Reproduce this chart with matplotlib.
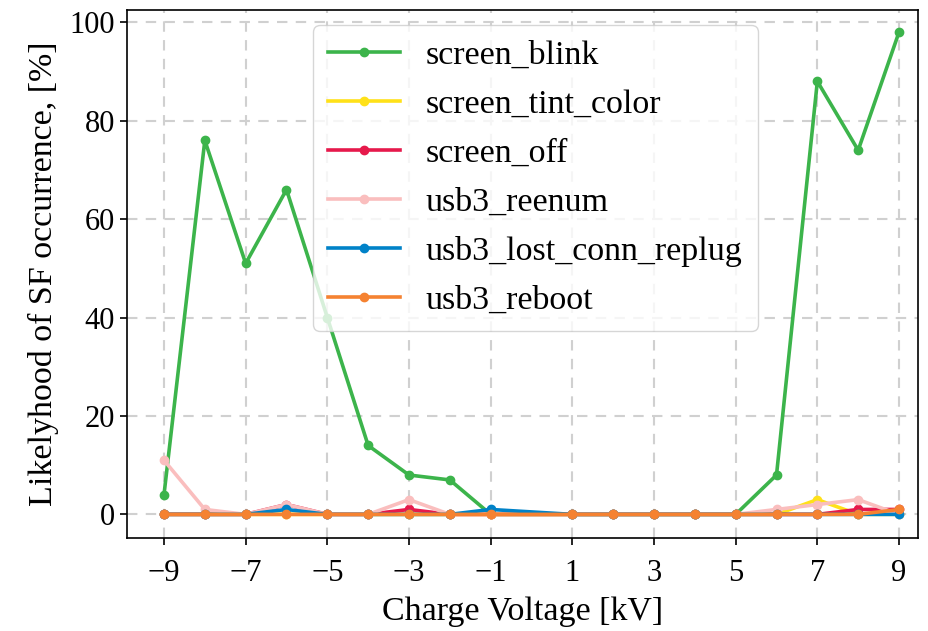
import matplotlib
matplotlib.use("Agg")
import matplotlib.pyplot as plt

plt.rcParams['font.family'] = ['Liberation Serif', 'DejaVu Serif']

voltages = [-9, -8, -7, -6, -5, -4, -3, -2, -1, 1, 2, 3, 4, 5, 6, 7, 8, 9]
screen_blink = [4, 76, 51, 66, 40, 14, 8, 7, 0, 0, 0, 0, 0, 0, 8, 88, 74, 98]
screen_tint_color = [0, 0, 0, 0, 0, 0, 0, 0, 0, 0, 0, 0, 0, 0, 0, 3, 0, 0]
screen_off = [0, 0, 0, 2, 0, 0, 1, 0, 0, 0, 0, 0, 0, 0, 0, 0, 1, 1]
usb3_reenum = [11, 1, 0, 2, 0, 0, 3, 0, 0, 0, 0, 0, 0, 0, 1, 2, 3, 0]
usb3_lost_conn_replug = [0, 0, 0, 1, 0, 0, 0, 0, 1, 0, 0, 0, 0, 0, 0, 0, 0, 0]
usb3_reboot = [0, 0, 0, 0, 0, 0, 0, 0, 0, 0, 0, 0, 0, 0, 0, 0, 0, 1]

series = [
    ("screen_blink", screen_blink, "#3cb44b"),
    ("screen_tint_color", screen_tint_color, "#ffe119"),
    ("screen_off", screen_off, "#e6194b"),
    ("usb3_reenum", usb3_reenum, "#fabebe"),
    ("usb3_lost_conn_replug", usb3_lost_conn_replug, "#0082c8"),
    ("usb3_reboot", usb3_reboot, "#f58231"),
]
xticks = [-9, -7, -5, -3, -1, 1, 3, 5, 7, 9]

fig = plt.figure(figsize=(9.29, 6.31), dpi=100)
ax = fig.add_axes([127/929, 1 - 538/631, (918-127)/929, (538-10)/631])
for name, vals, col in series:
    ax.plot(voltages, vals, marker='o', markersize=6, linewidth=2.6, color=col, label=name)

ax.set_xticks(xticks)
ax.set_xticklabels([str(t).replace('-', '\u2212') for t in xticks])
ax.set_xlim(-9.906, 9.465)
ax.set_ylim(-4.8, 102.5)
ax.set_yticks([0, 20, 40, 60, 80, 100])
ax.tick_params(labelsize=22, length=5, width=1.2)
ax.tick_params(axis='x', pad=10)
ax.grid(True, linestyle=(0, (5, 4)), color='#d0d0d0', linewidth=1.5)
ax.set_xlabel("Charge Voltage [kV]", fontsize=24.5, labelpad=6)
ax.set_ylabel("Likelyhood of SF occurrence, [%]", fontsize=24.5, labelpad=8)
for s in ax.spines.values():
    s.set_linewidth(1.2)
ax.legend(loc='upper left', bbox_to_anchor=(0.235, 0.9716), borderaxespad=0,
          fontsize=24.5, handlelength=2.1, handletextpad=0.76, borderpad=0.45,
          labelspacing=0.53)
fig.savefig("out.png", dpi=100)
